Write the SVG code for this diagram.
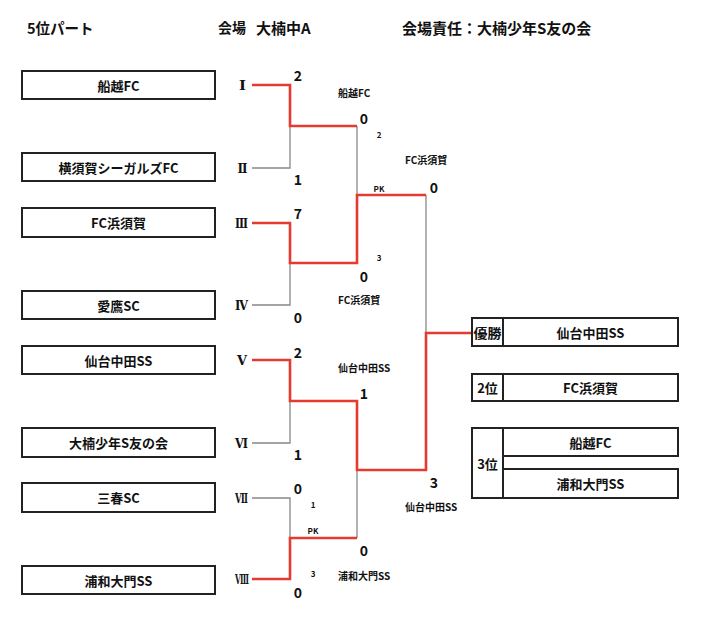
<svg xmlns="http://www.w3.org/2000/svg" width="702" height="622" viewBox="0 0 702 622">
<style>
text{font-family:"Noto Sans CJK JP","Liberation Sans",sans-serif;font-weight:bold;fill:#111}
.box{fill:#fff;stroke:#222;stroke-width:2}
.team{font-size:13px;text-anchor:middle;dominant-baseline:central}
.rn{font-family:"DejaVu Serif","Liberation Serif",serif;font-size:13px;text-anchor:middle;dominant-baseline:central}
.sc{font-size:14px;text-anchor:middle;dominant-baseline:central}
.sm{font-size:10px;dominant-baseline:central}
.pk{font-size:8px;text-anchor:middle;dominant-baseline:central}
.win{fill:none;stroke:#e53a2f;stroke-width:2.6}
.lose{fill:none;stroke:#888;stroke-width:1.3}
</style>
<rect width="702" height="622" fill="#fff"/>
<g id="header">
<text x="27" y="27" font-size="14.5" dominant-baseline="central">5位パート</text>
<text x="218" y="27" font-size="14" dominant-baseline="central">会場</text>
<text x="256" y="27" font-size="15" dominant-baseline="central">大楠中A</text>
<text x="402" y="27" font-size="15" dominant-baseline="central">会場責任：大楠少年S友の会</text>
</g>
<g id="connectors">
<path class="lose" d="M252,168 H290 V126"/>
<path class="lose" d="M252,305 H290 V263"/>
<path class="lose" d="M357,126 V195"/>
<path class="lose" d="M426,195 V333"/>
<path class="lose" d="M252,443 H290 V401"/>
<path class="lose" d="M252,498 H290 V538"/>
<path class="lose" d="M357,538 V470"/>
<path class="win" d="M252,85 H290 V126 H357"/>
<path class="win" d="M252,223 H290 V263 H357 V195 H426"/>
<path class="win" d="M252,360 H290 V401 H357 V470 H426 V333 H472"/>
<path class="win" d="M252,579 H290 V538 H357"/>
</g>
<g id="team1"><rect class="box" x="22" y="71" width="193" height="28"/><text class="team" x="118.5" y="85">船越FC</text><text class="rn" x="242.5" y="85" textLength="7" lengthAdjust="spacingAndGlyphs">Ⅰ</text></g>
<g id="team2"><rect class="box" x="22" y="153" width="193" height="28"/><text class="team" x="118.5" y="167">横須賀シーガルズFC</text><text class="rn" x="242.5" y="168" textLength="10" lengthAdjust="spacingAndGlyphs">Ⅱ</text></g>
<g id="team3"><rect class="box" x="22" y="208" width="193" height="29"/><text class="team" x="118.5" y="222.5">FC浜須賀</text><text class="rn" x="241.5" y="223" textLength="13" lengthAdjust="spacingAndGlyphs">Ⅲ</text></g>
<g id="team4"><rect class="box" x="22" y="291" width="193" height="28"/><text class="team" x="118.5" y="305">愛鷹SC</text><text class="rn" x="241.5" y="305" textLength="13" lengthAdjust="spacingAndGlyphs">Ⅳ</text></g>
<g id="team5"><rect class="box" x="22" y="346" width="193" height="28"/><text class="team" x="118.5" y="360">仙台中田SS</text><text class="rn" x="242" y="360" textLength="10" lengthAdjust="spacingAndGlyphs">Ⅴ</text></g>
<g id="team6"><rect class="box" x="22" y="428" width="193" height="29"/><text class="team" x="118.5" y="442.5">大楠少年S友の会</text><text class="rn" x="241.5" y="443" textLength="13" lengthAdjust="spacingAndGlyphs">Ⅵ</text></g>
<g id="team7"><rect class="box" x="22" y="483" width="193" height="29"/><text class="team" x="118.5" y="497.5">三春SC</text><text class="rn" x="241.5" y="498" textLength="13" lengthAdjust="spacingAndGlyphs">Ⅶ</text></g>
<g id="team8"><rect class="box" x="22" y="566" width="193" height="28"/><text class="team" x="118.5" y="580">浦和大門SS</text><text class="rn" x="242" y="579" textLength="14" lengthAdjust="spacingAndGlyphs">Ⅷ</text></g>
<g id="scores">
<text class="sc" x="298" y="75">2</text>
<text class="sc" x="298" y="179">1</text>
<text class="sc" x="298" y="213">7</text>
<text class="sc" x="298" y="317">0</text>
<text class="sc" x="298" y="352">2</text>
<text class="sc" x="298" y="454">1</text>
<text class="sc" x="298" y="488">0</text>
<text class="sc" x="298" y="592">0</text>
<text class="sc" x="364" y="118">0</text>
<text class="sc" x="364" y="276">0</text>
<text class="sc" x="364" y="393">1</text>
<text class="sc" x="364" y="550">0</text>
<text class="sc" x="434" y="187">0</text>
<text class="sc" x="434" y="482">3</text>
<text class="pk" x="379" y="134">2</text>
<text class="pk" x="379" y="188">PK</text>
<text class="pk" x="379" y="257">3</text>
<text class="pk" x="313" y="504">1</text>
<text class="pk" x="313" y="530">PK</text>
<text class="pk" x="313" y="573">3</text>
<text class="sm" x="338" y="92">船越FC</text>
<text class="sm" x="338" y="299">FC浜須賀</text>
<text class="sm" x="338" y="367">仙台中田SS</text>
<text class="sm" x="338" y="575">浦和大門SS</text>
<text class="sm" x="405" y="159">FC浜須賀</text>
<text class="sm" x="405" y="506">仙台中田SS</text>
</g>
<g id="champion"><rect class="box" x="472" y="318" width="31" height="28"/><rect class="box" x="503" y="318" width="175" height="28"/><text class="team" x="487.5" y="332" font-size="13" textLength="28" lengthAdjust="spacingAndGlyphs">優勝</text><text class="team" x="590.5" y="332">仙台中田SS</text></g>
<g id="second"><rect class="box" x="472" y="374" width="31" height="27"/><rect class="box" x="503" y="374" width="175" height="27"/><text class="team" x="487.5" y="387.5">2位</text><text class="team" x="590.5" y="387.5">FC浜須賀</text></g>
<g id="third"><rect class="box" x="472" y="428" width="31" height="70"/><rect class="box" x="503" y="428" width="175" height="28"/><rect class="box" x="503" y="469" width="175" height="29"/><text class="team" x="487.5" y="463">3位</text><text class="team" x="590.5" y="442">船越FC</text><text class="team" x="590.5" y="483.5">浦和大門SS</text></g>
</svg>
